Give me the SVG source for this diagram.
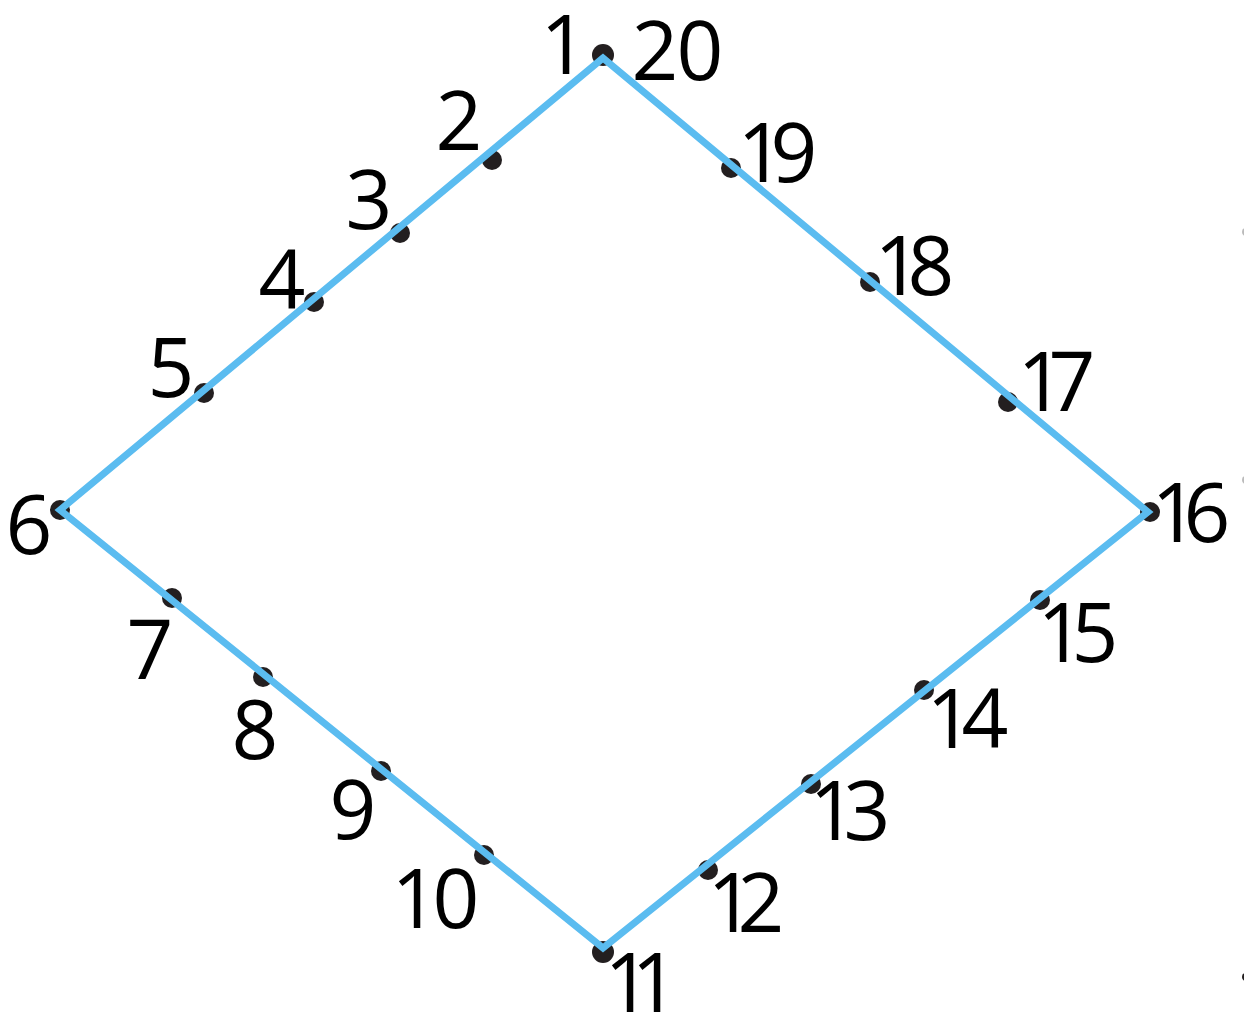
<svg xmlns="http://www.w3.org/2000/svg" width="1244" height="1017" viewBox="0 0 1244 1017">
<style>
.dot{fill:#231f20}
.lbl{font-family:"Open Sans","DejaVu Sans",sans-serif;font-size:82px;fill:#000;text-anchor:middle}
.edge{fill:none;stroke:#5bbcf0;stroke-width:7;stroke-linejoin:miter}
.edge-dot{fill:#bbb}
</style>
<rect width="1244" height="1017" fill="#fff"/>
<g id="nodes">
<g id="n1"><circle class="dot" cx="603" cy="55" r="11"/><text class="lbl" x="564" y="74">1</text></g>
<g id="n2"><circle class="dot" cx="492" cy="160" r="10"/><text class="lbl" x="459" y="150">2</text></g>
<g id="n3"><circle class="dot" cx="400" cy="233" r="10"/><text class="lbl" x="369" y="229">3</text></g>
<g id="n4"><circle class="dot" cx="314" cy="302" r="10"/><text class="lbl" x="282" y="309">4</text></g>
<g id="n5"><circle class="dot" cx="204" cy="393" r="10"/><text class="lbl" x="171" y="397">5</text></g>
<g id="n6"><circle class="dot" cx="60" cy="510" r="10"/><text class="lbl" x="29" y="554">6</text></g>
<g id="n7"><circle class="dot" cx="172" cy="598" r="10"/><text class="lbl" x="150" y="679">7</text></g>
<g id="n8"><circle class="dot" cx="263" cy="677" r="10"/><text class="lbl" x="255" y="759">8</text></g>
<g id="n9"><circle class="dot" cx="381" cy="771" r="10"/><text class="lbl" x="353" y="839">9</text></g>
<g id="n10"><circle class="dot" cx="484" cy="855" r="10"/><text class="lbl" x="415 456" y="928">10</text></g>
<g id="n11"><circle class="dot" cx="603" cy="952" r="11"/><text class="lbl" x="628 655" y="1012">11</text></g>
<g id="n12"><circle class="dot" cx="708" cy="870" r="10"/><text class="lbl" x="731 761" y="932">12</text></g>
<g id="n13"><circle class="dot" cx="811" cy="784" r="10"/><text class="lbl" x="833 867" y="840">13</text></g>
<g id="n14"><circle class="dot" cx="924" cy="690" r="10"/><text class="lbl" x="950 985" y="748">14</text></g>
<g id="n15"><circle class="dot" cx="1040" cy="600" r="10"/><text class="lbl" x="1061 1095" y="662">15</text></g>
<g id="n16"><circle class="dot" cx="1150" cy="512" r="10"/><text class="lbl" x="1175 1207" y="542">16</text></g>
<g id="n17"><circle class="dot" cx="1008" cy="402" r="10"/><text class="lbl" x="1041 1072" y="411">17</text></g>
<g id="n18"><circle class="dot" cx="870" cy="282" r="10"/><text class="lbl" x="898 931" y="295">18</text></g>
<g id="n19"><circle class="dot" cx="731" cy="168" r="10"/><text class="lbl" x="761 794" y="182">19</text></g>
<g id="n20"><text class="lbl" x="655 700" y="80">20</text></g>
<circle class="edge-dot" cx="1246" cy="232" r="4"/>
<circle class="edge-dot" cx="1246" cy="480" r="4"/>
<circle class="dot" cx="1246" cy="977" r="4"/>
</g>
<g id="connectors">
<polygon class="edge" points="603,58 60,510 603,948 1148,512"/>
</g>
</svg>
